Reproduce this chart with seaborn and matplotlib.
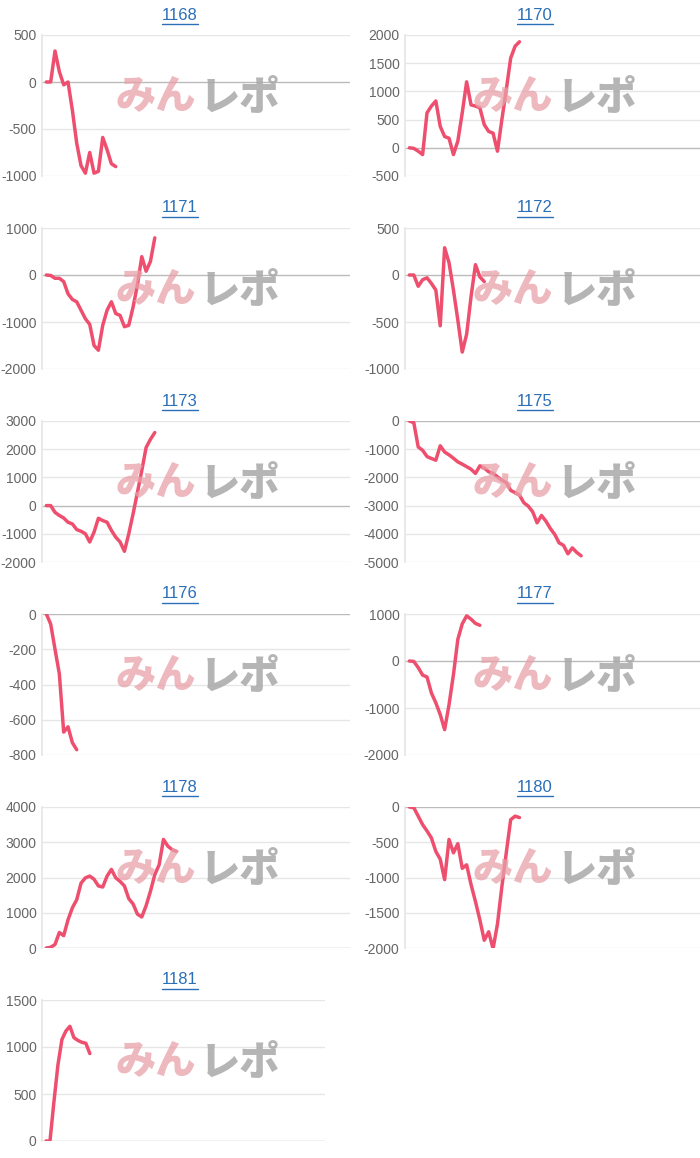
import matplotlib
matplotlib.use("Agg")
import matplotlib.pyplot as plt
import seaborn as sns
import numpy as np
from matplotlib.lines import Line2D

sns.set_theme(style="white")
plt.rcParams['font.family'] = ['Liberation Sans', 'DejaVu Sans', 'Noto Sans CJK JP']

titles = ["1168", "1170", "1171", "1172", "1173", "1175", "1176", "1177", "1178", "1180", "1181"]

s1168 = [0, 0, 330, 110, -30, 0, -300, -650, -890, -970, -750, -970, -950, -590, -720, -870, -900]
s1170 = [0, -10, -60, -120, 620, 740, 830, 380, 200, 170, -120, 120, 620, 1170, 760, 740, 710, 410,
         290, 260, -60, 500, 1030, 1590, 1800, 1880]
s1171 = [0, -10, -70, -70, -140, -400, -520, -570, -750, -930, -1050, -1500, -1600, -1070, -750,
         -570, -820, -860, -1100, -1070, -680, -210, 390, 80, 290, 790]
s1172 = [0, 0, -120, -50, -30, -90, -160, -540, 290, 130, -160, -480, -820, -630, -230, 110, -20, -70]
s1173 = [0, 0, -240, -350, -440, -590, -650, -850, -910, -1000, -1290, -940, -450, -530, -590, -880,
         -1120, -1290, -1620, -1000, -290, 470, 1240, 2060, 2350, 2590]
s1175 = [0, -60, -920, -1040, -1260, -1330, -1390, -880, -1100, -1200, -1320, -1450, -1530, -1620,
         -1710, -1860, -1590, -1670, -1800, -1860, -1980, -2100, -2180, -2460, -2540, -2630, -2900,
         -3020, -3220, -3610, -3350, -3550, -3810, -4020, -4320, -4410, -4710, -4500, -4660, -4780]
s1176 = [0, -57, -200, -340, -670, -640, -730, -770]
s1177 = [0, -10, -140, -300, -340, -680, -890, -1140, -1460, -930, -290, 460, 790, 960, 890, 800, 760]
s1178 = [0, 20, 100, 440, 350, 800, 1140, 1370, 1840, 1990, 2040, 1950, 1760, 1730, 2040, 2230, 1990,
         1890, 1760, 1400, 1250, 960, 880, 1200, 1610, 2080, 2360, 3080, 2890, 2790, 2740]
s1180 = [0, -10, -130, -250, -340, -440, -630, -740, -1030, -460, -650, -520, -870, -820, -1100,
         -1340, -1600, -1890, -1770, -2010, -1660, -1130, -650, -180, -130, -150]
s1181 = [0, 0, 420, 810, 1080, 1170, 1220, 1100, 1070, 1050, 1040, 930]

series = [s1168, s1170, s1171, s1172, s1173, s1175, s1176, s1177, s1178, s1180, s1181]
yranges = [(-1000, 500, 500), (-500, 2000, 500), (-2000, 1000, 1000), (-1000, 500, 500),
           (-2000, 3000, 1000), (-5000, 0, 1000), (-800, 0, 200), (-2000, 1000, 1000),
           (0, 4000, 1000), (-2000, 0, 500), (0, 1500, 500)]

W, H = 700, 1158
fig = plt.figure(figsize=(7, 11.58), dpi=100)
line_color = "#ee4f6e"
row_h = 193
jp = ["Noto Sans CJK JP"]

for i, (t, s, yr) in enumerate(zip(titles, series, yranges)):
    r, c = divmod(i, 2)
    left = 42 if c == 0 else 405
    width = 308 if c == 0 else 295
    if t == "1181":
        width = 283
    top = 35 + row_h * r
    bottom = 176 + row_h * r
    ax = fig.add_axes([left / W, 1 - bottom / H, width / W, (bottom - top) / H])
    x = np.arange(len(s))
    sns.lineplot(x=x, y=s, ax=ax, color=line_color, linewidth=2.5)
    lo, hi, st = yr
    ticks = np.arange(lo, hi + st / 2, st)
    ax.set_ylim(lo, hi)
    ax.set_yticks(ticks)
    ax.set_yticklabels([f"{int(v)}" for v in ticks])
    ax.set_xlim(-1, 70 if c == 0 else 66)
    ax.set_xticks([])
    for v in ticks:
        ax.axhline(v, color="#bbbbbb" if v == 0 else "#e6e6e6", linewidth=1, zorder=0)
    for sp in ["top", "right", "bottom"]:
        ax.spines[sp].set_visible(False)
    ax.spines["left"].set_color("#e6e6e6")
    ax.tick_params(axis="y", labelsize=10, labelcolor="#666666", length=0, pad=4)
    # watermark
    cx = (196 if c == 0 else 553) / W
    cy = 1 - (top + 62) / H
    fig.text(cx, cy, "みん", fontsize=29, fontweight="black", color="#e8a0a8", alpha=0.75,
             ha="right", va="center", family=jp, zorder=5)
    fig.text(cx + 4 / W, cy, "レポ", fontsize=29, fontweight="black", color="#a8a8a8", alpha=0.85,
             ha="left", va="center", family=jp, zorder=5)
    # title with underline
    tx = (180 if c == 0 else 535) / W
    ty = 1 - (15 + row_h * r) / H
    fig.text(tx, ty, t, fontsize=12, color="#2a6fb8", ha="center", va="center")
    uy = 1 - (24 + row_h * r) / H
    fig.add_artist(Line2D([tx - 18 / W, tx + 18 / W], [uy, uy], color="#2a6fb8", linewidth=1,
                          transform=fig.transFigure))

fig.savefig("out.png", dpi=100, facecolor="white")
